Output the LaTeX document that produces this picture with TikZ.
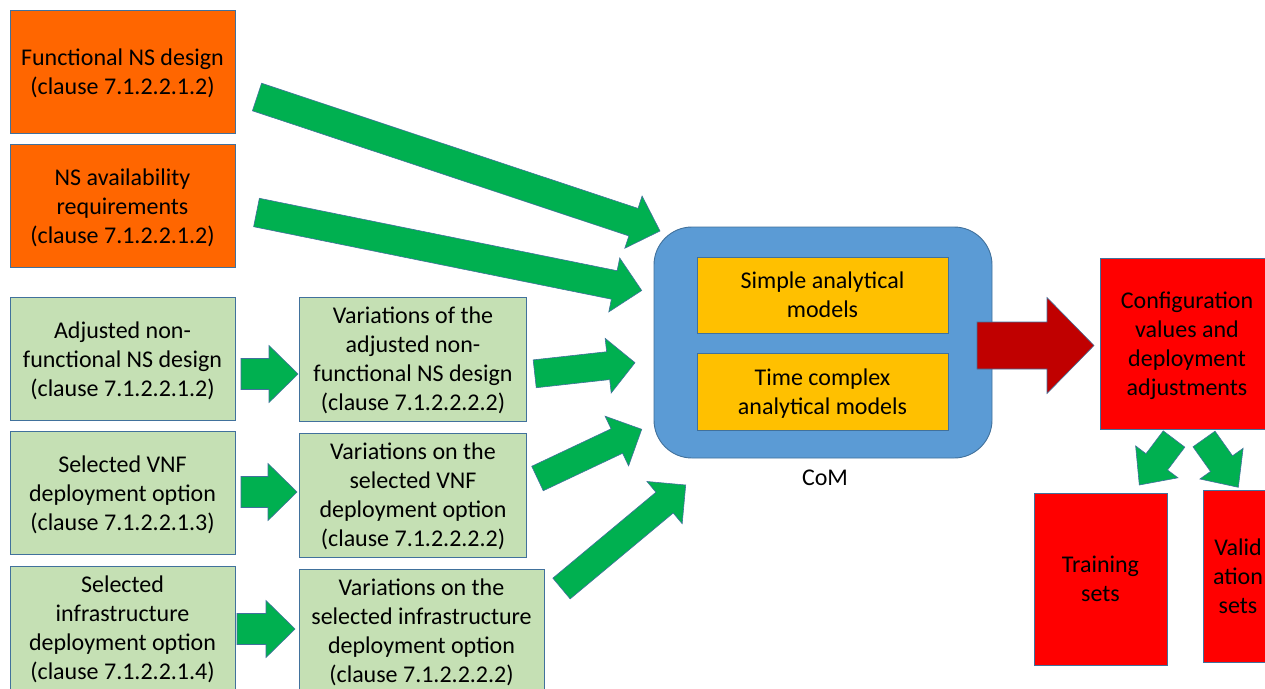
\documentclass[tikz,border=0pt]{standalone}
\usepackage{fontspec}
\setmainfont{Carlito}
\usetikzlibrary{calc}

\definecolor{orangebox}{HTML}{FF6600}
\definecolor{greenbox}{HTML}{C5E0B4}
\definecolor{edge}{HTML}{41719C}
\definecolor{arrowgreen}{HTML}{00B050}
\definecolor{comblue}{HTML}{5B9BD5}
\definecolor{modelyellow}{HTML}{FFC000}
\definecolor{darkred}{HTML}{C00000}
\definecolor{setred}{HTML}{FF0000}

\tikzset{
  box/.style={draw=edge, line width=0.9pt, inner sep=0pt, align=center,
    font=\fontsize{24}{29}\selectfont, text depth=0pt},
  inputbox/.style={box, fill=orangebox, minimum width=225pt, minimum height=123pt},
  optionbox/.style={box, fill=greenbox, minimum width=225pt, minimum height=123pt},
  variationbox/.style={box, fill=greenbox, minimum width=227pt, minimum height=124pt},
  modelbox/.style={box, fill=modelyellow, minimum width=251pt, minimum height=76pt},
  setbox/.style={box, fill=setred},
  flowarrow/.style={fill=arrowgreen, draw=edge, line width=0.6pt, line join=miter},
  resultarrow/.style={fill=darkred, draw=edge, line width=0.6pt, line join=miter},
}

% Block arrow: [style]{tail}{tip}{half shaft width}{half head width}{head length}
\newcommand\blockarrow[6][]{%
  \coordinate (ba-base) at ($(#3)!#6!(#2)$);
  \path[#1] ($(#2)!#4!90:(#3)$) -- ($(ba-base)!#4!-90:(#2)$)
    -- ($(ba-base)!#5!-90:(#2)$) -- (#3) -- ($(ba-base)!#5!90:(#2)$)
    -- ($(ba-base)!#4!90:(#2)$) -- ($(#2)!#4!-90:(#3)$) -- cycle;
}

\begin{document}
\begin{tikzpicture}[x=1pt, y=-1pt]
  \clip (0,0) rectangle (1265,688);
  \fill[white] (0,0) rectangle (1265,688);

  % inputs
  \node[inputbox] (fns) at (122.5,71.5) {Functional NS design\\(clause 7.1.2.2.1.2)};
  \node[inputbox] (avail) at (122.5,206) {NS availability\\requirements\\(clause 7.1.2.2.1.2)};
  \node[optionbox] (nfns) at (122.5,359) {Adjusted non-\\functional NS design\\(clause 7.1.2.2.1.2)};
  \node[optionbox] (vnf) at (122.5,493) {Selected VNF\\deployment option\\(clause 7.1.2.2.1.3)};
  \node[optionbox] (infra) at (122.5,627.5) {Selected\\infrastructure\\deployment option\\(clause 7.1.2.2.1.4)};

  % variations
  \node[variationbox] (vnfns) at (413,359) {Variations of the\\adjusted non-\\functional NS design\\(clause 7.1.2.2.2.2)};
  \node[variationbox] (vvnf) at (413,495) {Variations on the\\selected VNF\\deployment option\\(clause 7.1.2.2.2.2)};
  \node[variationbox, minimum width=245pt] (vinfra) at (421.5,631) {Variations on the\\selected infrastructure\\deployment option\\(clause 7.1.2.2.2.2)};

  % CoM with its models
  \node[draw=edge, line width=0.9pt, fill=comblue, rounded corners=38pt,
        minimum width=338pt, minimum height=231pt] (com) at (823,342.5) {};
  \node[modelbox] (simple) at (822.5,295) {Simple analytical\\models};
  \node[modelbox, minimum height=77pt] (complex) at (822.5,391.5) {Time complex\\analytical models};
  \node[font=\fontsize{24}{29}\selectfont] (comlabel) at (825,478) {CoM};

  % outputs
  \node[setbox, minimum width=174pt, minimum height=171pt] (config) at (1187,343.5)
    {Configuration\\values and\\deployment\\adjustments};
  \node[setbox, minimum width=133pt, minimum height=172pt] (train) at (1100.5,579) {Training\\sets};
  \node[setbox, minimum width=70pt, minimum height=172pt] (valid) at (1238,576) {Valid\\ation\\sets};

  % arrow end points
  \coordinate (a1s) at (257,97);      \coordinate (a1e) at (660,231);
  \coordinate (a2s) at (256.5,212.5); \coordinate (a2e) at (641.7,290.5);
  \coordinate (a3s) at (534.7,373.8); \coordinate (a3e) at (635,362.7);
  \coordinate (a4s) at (537.5,478.5); \coordinate (a4e) at (641.7,429.3);
  \coordinate (a5s) at (561.5,588.5); \coordinate (a5e) at (685.7,485);
  \coordinate (s1s) at (241,374);     \coordinate (s1e) at (298,374);
  \coordinate (s2s) at (241,492);     \coordinate (s2e) at (297,492);
  \coordinate (s3s) at (237,629);     \coordinate (s3e) at (295,629);
  \coordinate (rs) at (977,345.5);    \coordinate (re) at (1094,345.5);
  \coordinate (d1s) at (1174,439);    \coordinate (d1e) at (1139.3,485);
  \coordinate (d2s) at (1204,439);    \coordinate (d2e) at (1238.3,487.3);

  % arrows into CoM
  \blockarrow[flowarrow]{a1s}{a1e}{14.5pt}{27.5pt}{28pt}
  \blockarrow[flowarrow]{a2s}{a2e}{14.5pt}{27.5pt}{28pt}
  \blockarrow[flowarrow]{a3s}{a3e}{14pt}{27.5pt}{27pt}
  \blockarrow[flowarrow]{a4s}{a4e}{13.5pt}{27.5pt}{27.5pt}
  \blockarrow[flowarrow]{a5s}{a5e}{13.5pt}{27.5pt}{27.5pt}

  % arrows to the variations
  \blockarrow[flowarrow]{s1s}{s1e}{15.5pt}{28.5pt}{29pt}
  \blockarrow[flowarrow]{s2s}{s2e}{15.5pt}{28.5pt}{29pt}
  \blockarrow[flowarrow]{s3s}{s3e}{15.5pt}{28.5pt}{29pt}

  % result arrow
  \blockarrow[resultarrow]{rs}{re}{23.5pt}{48pt}{47pt}

  % split into training and validation sets
  \blockarrow[flowarrow]{d1s}{d1e}{13.5pt}{26.5pt}{29pt}
  \blockarrow[flowarrow]{d2s}{d2e}{13.5pt}{26.5pt}{29pt}
\end{tikzpicture}
\end{document}
